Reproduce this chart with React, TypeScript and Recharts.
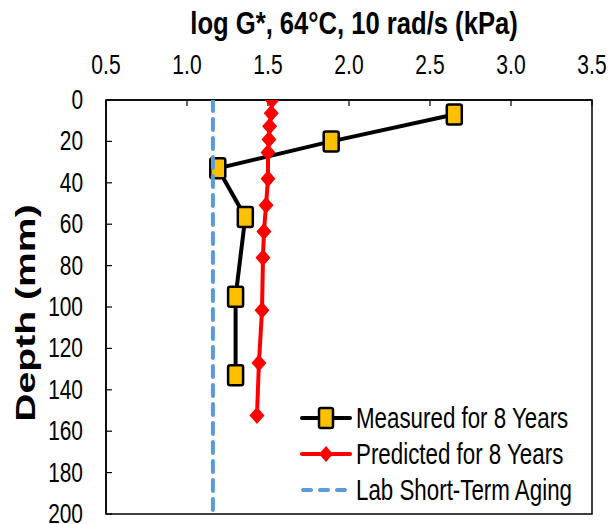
import React from 'react';
import { ScatterChart, Scatter, XAxis, YAxis, ReferenceArea, Legend } from 'recharts';

// ---- data ----
const xTicks = [0.5, 1.0, 1.5, 2.0, 2.5, 3.0, 3.5];
const yTicks = [0, 20, 40, 60, 80, 100, 120, 140, 160, 180, 200];

const measuredG = [2.65, 1.89, 1.19, 1.36, 1.3, 1.3];
const measuredDepth = [7, 20, 33, 56.5, 95, 133];

const predictedG = [1.525, 1.52, 1.51, 1.506, 1.5, 1.5, 1.488, 1.475, 1.469, 1.463, 1.444, 1.432];
const predictedDepth = [0, 6.35, 12.7, 19.05, 25.4, 38.1, 50.8, 63.5, 76.2, 101.6, 127, 152.4];

const labG = [1.16, 1.16];
const labDepth = [0, 200];

const seriesNames = ['Measured for 8 Years', 'Predicted for 8 Years', 'Lab Short-Term Aging'];

const toPoints = (xs: number[], ys: number[]) => xs.map((g, i) => ({ g, depth: ys[i] }));
const measuredData = toPoints(measuredG, measuredDepth);
const predictedData = toPoints(predictedG, predictedDepth);
const labData = toPoints(labG, labDepth);

const FONT = '"Liberation Sans", Arial, sans-serif';
const MEASURED_FILL = '#FFC000';
const PREDICTED = '#FF0000';
const LAB = '#5B9BD5';

// ---- custom pieces ----
const TopTick = (props: any) => {
  const { x, y, payload } = props;
  return (
    <g transform={`translate(${x},${y})`}>
      <text transform="scale(0.78,1)" textAnchor="middle" fontFamily={FONT} fontSize={27} fill="#000">
        {Number(payload.value).toFixed(1)}
      </text>
    </g>
  );
};

const LeftTick = (props: any) => {
  const { x, y, payload } = props;
  return (
    <g transform={`translate(${x},${y})`}>
      <text transform="scale(0.76,1)" textAnchor="end" dy="0.33em" fontFamily={FONT} fontSize={27.5} fill="#000">
        {payload.value}
      </text>
    </g>
  );
};

const TitleLabel = (props: any) => {
  const vb = props.viewBox || { x: 0, y: 0, width: 0, height: 0 };
  const cx = vb.x + vb.width / 2 + 5;
  return (
    <g transform={`translate(${cx},${vb.y + 34})`}>
      <text transform="scale(0.8,1)" textAnchor="middle" fontFamily={FONT} fontWeight="bold" fontSize={32} fill="#000">
        log G*, 64°C, 10 rad/s (kPa)
      </text>
    </g>
  );
};

const DepthLabel = (props: any) => {
  const vb = props.viewBox || { x: 0, y: 0, width: 0, height: 0 };
  const cy = vb.y + vb.height / 2 + 6;
  return (
    <g transform={`translate(${vb.x + 35},${cy}) rotate(-90)`}>
      <text transform="scale(1.45,1)" textAnchor="middle" fontFamily={FONT} fontWeight="bold" fontSize={27} fill="#000">
        Depth (mm)
      </text>
    </g>
  );
};

const SquareMarker = (props: any) => {
  const { cx, cy } = props;
  if (cx == null || cy == null) return <g />;
  return <rect x={cx - 7.5} y={cy - 10} width={15} height={20} rx={2} fill={MEASURED_FILL} stroke="#000" strokeWidth={2.5} />;
};

const DiamondMarker = (props: any) => {
  const { cx, cy } = props;
  if (cx == null || cy == null) return <g />;
  return <polygon points={`${cx},${cy - 8.5} ${cx + 7.5},${cy} ${cx},${cy + 8.5} ${cx - 7.5},${cy}`} fill={PREDICTED} />;
};

const NoMarker = () => <g />;

const LegendContent = () => {
  const rowH = 36;
  return (
    <div style={{ position: 'relative', width: 290, height: rowH * 3 }}>
      {seriesNames.map((name, i) => (
        <div key={name} style={{ position: 'absolute', left: 0, top: i * rowH, height: rowH, display: 'flex', alignItems: 'center' }}>
          <svg width={52} height={rowH} style={{ display: 'block' }}>
            {i === 0 && (
              <g>
                <line x1={2} y1={rowH / 2} x2={50} y2={rowH / 2} stroke="#000" strokeWidth={4} strokeLinecap="round" />
                <rect x={19} y={rowH / 2 - 10} width={14} height={20} rx={2} fill={MEASURED_FILL} stroke="#000" strokeWidth={2.5} />
              </g>
            )}
            {i === 1 && (
              <g>
                <line x1={2} y1={rowH / 2} x2={50} y2={rowH / 2} stroke={PREDICTED} strokeWidth={4} strokeLinecap="round" />
                <polygon points={`26,${rowH / 2 - 8} 33,${rowH / 2} 26,${rowH / 2 + 8} 19,${rowH / 2}`} fill={PREDICTED} />
              </g>
            )}
            {i === 2 && (
              <line x1={3} y1={rowH / 2} x2={50} y2={rowH / 2} stroke={LAB} strokeWidth={4} strokeLinecap="round" strokeDasharray="8 9" />
            )}
          </svg>
          <span
            style={{
              fontFamily: FONT,
              fontSize: 29,
              lineHeight: `${rowH}px`,
              color: '#000',
              whiteSpace: 'nowrap',
              marginLeft: 4,
              display: 'inline-block',
              transform: 'scaleX(0.77)',
              transformOrigin: 'left center',
            }}
          >
            {name}
          </span>
        </div>
      ))}
    </div>
  );
};

export default function App() {
  return (
    <div style={{ position: 'absolute', left: 0, top: 0, width: 610, height: 524, background: '#fff' }}>
      <ScatterChart width={610} height={524} margin={{ top: 0, right: 18, bottom: 10, left: 0 }}>
        <XAxis
          type="number"
          dataKey="g"
          orientation="top"
          domain={[0.5, 3.5]}
          ticks={xTicks}
          height={100}
          tickSize={-6}
          tickMargin={32}
          tick={<TopTick />}
          axisLine={{ stroke: '#000', strokeWidth: 1.5 }}
          tickLine={{ stroke: '#000', strokeWidth: 1.2 }}
          allowDataOverflow
          label={{ content: (p: any) => <TitleLabel {...p} /> }}
        />
        <YAxis
          type="number"
          dataKey="depth"
          reversed
          domain={[0, 200]}
          ticks={yTicks}
          width={106}
          tickSize={-6}
          tickMargin={29}
          tick={<LeftTick />}
          axisLine={{ stroke: '#000', strokeWidth: 1.5 }}
          tickLine={{ stroke: '#000', strokeWidth: 1.2 }}
          allowDataOverflow
          label={{ content: (p: any) => <DepthLabel {...p} /> }}
        />
        <ReferenceArea x1={0.5} x2={3.5} y1={0} y2={200} fill="none" fillOpacity={0} stroke="#000" strokeWidth={1.5} />
        <Scatter
          name={seriesNames[0]}
          data={measuredData}
          line={{ stroke: '#000', strokeWidth: 4 }}
          shape={SquareMarker}
          isAnimationActive={false}
        />
        <Scatter
          name={seriesNames[1]}
          data={predictedData}
          line={{ stroke: PREDICTED, strokeWidth: 4 }}
          shape={DiamondMarker}
          isAnimationActive={false}
        />
        <Scatter
          name={seriesNames[2]}
          data={labData}
          line={{ stroke: LAB, strokeWidth: 4, strokeDasharray: '11 8', strokeLinecap: 'round' }}
          shape={NoMarker}
          isAnimationActive={false}
        />
        <Legend
          layout="vertical"
          align="center"
          verticalAlign="middle"
          content={<LegendContent />}
          wrapperStyle={{ position: 'absolute', left: 300, top: 400, width: 292, height: 110 }}
        />
      </ScatterChart>
    </div>
  );
}
